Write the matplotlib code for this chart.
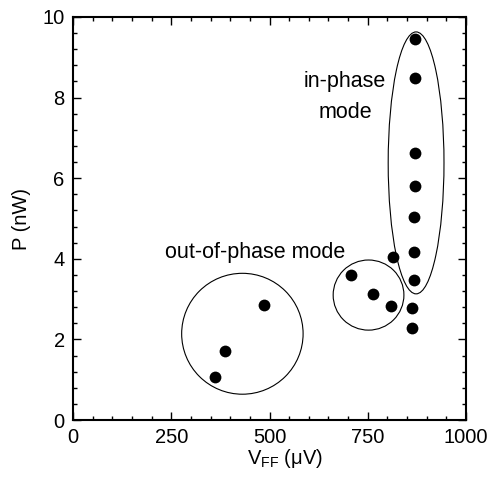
import matplotlib
matplotlib.use("Agg")
import matplotlib.pyplot as plt
from matplotlib.patches import Ellipse
from matplotlib.ticker import MultipleLocator

plt.rcParams['font.family'] = ['Liberation Sans', 'DejaVu Sans']
plt.rcParams['mathtext.fontset'] = 'custom'
plt.rcParams['mathtext.rm'] = 'Liberation Sans'
plt.rcParams['mathtext.it'] = 'Liberation Sans'

# data (V_FF in uV, P in nW)
v_ff = [361, 386, 486, 707, 764, 809, 815, 862, 862, 868, 868, 868, 870, 870, 870, 870]
power = [1.07, 1.72, 2.86, 3.59, 3.13, 2.83, 4.04, 2.77, 2.28, 3.47, 4.16, 5.03, 5.81, 6.62, 8.48, 9.45]

# group outlines: (center x, center y, width, height)
groups = [
    (431, 2.14, 309, 3.0),
    (752, 3.10, 180, 1.74),
    (873, 6.38, 142, 6.5),
]

fig = plt.figure(figsize=(4.92, 4.83), dpi=100)
ax = fig.add_axes([73/492, 1 - 420/483, (466-73)/492, (420-17)/483])

ax.scatter(v_ff, power, s=8.5**2, color='black', zorder=3, linewidths=0)
for cx, cy, w, h in groups:
    ax.add_patch(Ellipse((cx, cy), w, h, fill=False, edgecolor='black', linewidth=0.8))

ax.text(464, 4.16, 'out-of-phase mode', ha='center', va='center', fontsize=15.5)
ax.text(692, 8.41, 'in-phase', ha='center', va='center', fontsize=15.5)
ax.text(692, 7.64, 'mode', ha='center', va='center', fontsize=15.5)

ax.set_xlim(0, 1000)
ax.set_ylim(0, 10)
ax.xaxis.set_major_locator(MultipleLocator(250))
ax.xaxis.set_minor_locator(MultipleLocator(50))
ax.yaxis.set_major_locator(MultipleLocator(2))
ax.yaxis.set_minor_locator(MultipleLocator(0.4))
ax.tick_params(which='both', direction='in', top=True, right=True, labelsize=14.5, width=1.0, pad=6)
ax.tick_params(which='major', length=6)
ax.tick_params(which='minor', length=3)
for s in ax.spines.values():
    s.set_linewidth(1.5)

ax.set_xlabel(r'V$_{\rm FF}$ ($\mu$V)', fontsize=14.5, labelpad=7)
ax.xaxis.set_label_coords((285-73)/393, -0.095)
ax.xaxis.label.set_verticalalignment('center')
ax.set_ylabel('P (nW)', fontsize=14.5, labelpad=8)

fig.savefig('out.png', dpi=100)
